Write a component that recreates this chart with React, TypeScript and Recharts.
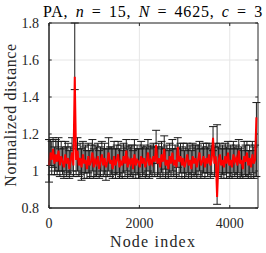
import { CartesianGrid, ErrorBar, Line, LineChart, ReferenceArea, ReferenceLine, XAxis, YAxis } from "recharts"

const nodeIndex = [
  0, 30, 60, 90, 120, 150, 180, 210, 240, 270,
  300, 330, 360, 390, 420, 450, 480, 510, 540, 570,
  600, 630, 660, 690, 720, 750, 780, 810, 840, 870,
  900, 930, 960, 990, 1020, 1050, 1080, 1110, 1140, 1170,
  1200, 1230, 1260, 1290, 1320, 1350, 1380, 1410, 1440, 1470,
  1500, 1530, 1560, 1590, 1620, 1650, 1680, 1710, 1740, 1770,
  1800, 1830, 1860, 1890, 1920, 1950, 1980, 2010, 2040, 2070,
  2100, 2130, 2160, 2190, 2220, 2250, 2280, 2310, 2340, 2370,
  2400, 2430, 2460, 2490, 2520, 2550, 2580, 2610, 2640, 2670,
  2700, 2730, 2760, 2790, 2820, 2850, 2880, 2910, 2940, 2970,
  3000, 3030, 3060, 3090, 3120, 3150, 3180, 3210, 3240, 3270,
  3300, 3330, 3360, 3390, 3420, 3450, 3480, 3510, 3540, 3570,
  3600, 3630, 3660, 3690, 3720, 3750, 3780, 3810, 3840, 3870,
  3900, 3930, 3960, 3990, 4020, 4050, 4080, 4110, 4140, 4170,
  4200, 4230, 4260, 4290, 4320, 4350, 4380, 4410, 4440, 4470,
  4500, 4530, 4560, 4590,
]

const distance = [
  1.03, 1.1, 1.06, 1.12, 1.04, 1.09, 1.05, 1.11, 1.03, 1.08,
  1.05, 1.02, 1.09, 1.04, 1.07, 1.01, 1.06, 1.1, 1.03, 1.51,
  1.06, 1.11, 1.03, 1.07, 1.02, 1.09, 1.04, 1.06, 1.01, 1.08,
  1.03, 1.05, 1.1, 1.02, 1.06, 1.04, 1.08, 1.01, 1.05, 1.09,
  1.03, 1.07, 1.02, 1.05, 1.1, 1.04, 1.06, 1.01, 1.08, 1.03,
  1.06, 1.09, 1.02, 1.05, 1.03, 1.08, 1.04, 1.11, 1.02, 1.06,
  1.04, 1.07, 1.01, 1.09, 1.03, 1.06, 1.05, 1.02, 1.08, 1.04,
  1.07, 1.02, 1.05, 1.1, 1.03, 1.06, 1.04, 1.08, 1.05, 1.14,
  1.04, 1.07, 1.02, 1.09, 1.05, 1.12, 1.03, 1.06, 1.01, 1.08,
  1.04, 1.1, 1.03, 1.06, 1.02, 1.13, 1.05, 1.08, 1.03, 1.07,
  1.02, 1.05, 1.09, 1.03, 1.06, 1.01, 1.08, 1.04, 1.07, 1.02,
  1.06, 1.1, 1.03, 1.05, 1.08, 1.02, 1.07, 1.04, 1.09, 1.03,
  1.06, 1.18, 1.04, 1.08, 0.86, 1.05, 1.09, 1.03, 1.06, 1.02,
  1.08, 1.04, 1.1, 1.03, 1.06, 1.02, 1.09, 1.05, 1.07, 1.03,
  1.11, 1.04, 1.06, 1.01, 1.08, 1.05, 1.1, 1.03, 1.07, 1.02,
  1.09, 1.04, 1.06, 1.29,
]

const errLow = [
  0.09, 0.07, 0.08, 0.1, 0.06, 0.09, 0.07, 0.11, 0.06, 0.08,
  0.07, 0.06, 0.09, 0.07, 0.08, 0.05, 0.08, 0.1, 0.06, 0.07,
  0.08, 0.11, 0.06, 0.09, 0.07, 0.1, 0.08, 0.07, 0.05, 0.09,
  0.07, 0.08, 0.1, 0.06, 0.09, 0.07, 0.1, 0.05, 0.08, 0.09,
  0.06, 0.09, 0.07, 0.08, 0.1, 0.07, 0.08, 0.05, 0.09, 0.07,
  0.08, 0.1, 0.06, 0.08, 0.07, 0.09, 0.07, 0.11, 0.06, 0.08,
  0.07, 0.09, 0.05, 0.1, 0.07, 0.08, 0.09, 0.06, 0.09, 0.07,
  0.09, 0.06, 0.08, 0.1, 0.07, 0.08, 0.07, 0.09, 0.08, 0.1,
  0.07, 0.09, 0.06, 0.1, 0.08, 0.11, 0.07, 0.08, 0.05, 0.09,
  0.07, 0.1, 0.06, 0.08, 0.06, 0.11, 0.08, 0.09, 0.07, 0.08,
  0.06, 0.08, 0.1, 0.07, 0.08, 0.05, 0.09, 0.07, 0.09, 0.06,
  0.08, 0.1, 0.07, 0.08, 0.09, 0.06, 0.08, 0.07, 0.1, 0.07,
  0.08, 0.07, 0.07, 0.09, 0.04, 0.08, 0.1, 0.07, 0.08, 0.06,
  0.09, 0.08, 0.11, 0.07, 0.09, 0.06, 0.1, 0.08, 0.09, 0.07,
  0.12, 0.08, 0.09, 0.05, 0.1, 0.08, 0.13, 0.07, 0.09, 0.06,
  0.1, 0.08, 0.09, 0.32,
]

const errHigh = [
  0.14, 0.07, 0.1, 0.06, 0.09, 0.08, 0.11, 0.07, 0.09, 0.08,
  0.08, 0.1, 0.07, 0.09, 0.08, 0.1, 0.07, 0.08, 0.09, 0.29,
  0.08, 0.07, 0.09, 0.08, 0.1, 0.07, 0.09, 0.08, 0.1, 0.07,
  0.08, 0.09, 0.07, 0.1, 0.08, 0.09, 0.07, 0.1, 0.08, 0.07,
  0.09, 0.08, 0.1, 0.07, 0.08, 0.09, 0.07, 0.11, 0.08, 0.09,
  0.08, 0.07, 0.1, 0.09, 0.08, 0.07, 0.09, 0.06, 0.1, 0.08,
  0.09, 0.07, 0.1, 0.08, 0.09, 0.08, 0.07, 0.1, 0.08, 0.09,
  0.07, 0.1, 0.08, 0.07, 0.09, 0.08, 0.09, 0.07, 0.08, 0.08,
  0.09, 0.08, 0.1, 0.07, 0.08, 0.07, 0.09, 0.08, 0.1, 0.07,
  0.08, 0.07, 0.09, 0.08, 0.1, 0.05, 0.08, 0.07, 0.09, 0.08,
  0.09, 0.08, 0.06, 0.09, 0.08, 0.1, 0.07, 0.09, 0.07, 0.1,
  0.08, 0.06, 0.09, 0.08, 0.07, 0.1, 0.08, 0.09, 0.06, 0.09,
  0.08, 0.06, 0.09, 0.07, 0.39, 0.08, 0.06, 0.09, 0.08, 0.1,
  0.07, 0.09, 0.06, 0.09, 0.08, 0.1, 0.07, 0.08, 0.07, 0.09,
  0.06, 0.08, 0.07, 0.1, 0.08, 0.09, 0.06, 0.08, 0.07, 0.09,
  0.07, 0.09, 0.08, 0.08,
]

const xTicks = [0, 2000, 4000]
const yTicks = [0.8, 1, 1.2, 1.4, 1.6, 1.8]

const X_MAX = 4625
const font = "'Liberation Serif', serif"
const axisColor = "#262626"

export default function App() {
  const data = nodeIndex.map((node, i) => ({
    node,
    dist: distance[i],
    err: [errLow[i], errHigh[i]],
  }))

  // small inward ticks on all four sides (matlab box style)
  const xTickLen = 60
  const yTickLen = 0.016

  return (
    <div style={{ position: "absolute", left: 0, top: 0 }}>
      <LineChart
        width={266}
        height={253}
        data={data}
        margin={{ top: 23, right: 8, bottom: 0, left: 0 }}
      >
        <CartesianGrid stroke="#e6e6e6" horizontalValues={yTicks} verticalValues={xTicks} />
        <XAxis
          dataKey="node"
          type="number"
          domain={[0, X_MAX]}
          ticks={xTicks}
          height={45}
          stroke={axisColor}
          tickLine={false}
          tick={{ fill: axisColor, fontSize: 14, fontFamily: font }}
          tickMargin={4}
        />
        <YAxis
          type="number"
          domain={[0.8, 1.8]}
          ticks={yTicks}
          allowDataOverflow
          width={49}
          stroke={axisColor}
          tickLine={false}
          tick={{ fill: axisColor, fontSize: 14, fontFamily: font }}
          tickMargin={4}
          tickFormatter={(v: number) => (v === 1 ? "1" : v.toFixed(1))}
        />
        <ReferenceArea x1={0} x2={X_MAX} y1={0.8} y2={1.8} fill="none" stroke={axisColor} strokeOpacity={1} />
        {yTicks.map((t) => (
          <ReferenceLine key={"yl" + t} segment={[{ x: 0, y: t }, { x: xTickLen, y: t }]} stroke={axisColor} />
        ))}
        {yTicks.map((t) => (
          <ReferenceLine key={"yr" + t} segment={[{ x: X_MAX - xTickLen, y: t }, { x: X_MAX, y: t }]} stroke={axisColor} />
        ))}
        {xTicks.map((t) => (
          <ReferenceLine key={"xb" + t} segment={[{ x: t, y: 0.8 }, { x: t, y: 0.8 + yTickLen }]} stroke={axisColor} />
        ))}
        {xTicks.map((t) => (
          <ReferenceLine key={"xt" + t} segment={[{ x: t, y: 1.8 - yTickLen }, { x: t, y: 1.8 }]} stroke={axisColor} />
        ))}
        <Line dataKey="dist" stroke="none" dot={false} isAnimationActive={false}>
          <ErrorBar dataKey="err" width={4} stroke="#1a1a1a" strokeWidth={1} direction="y" />
        </Line>
        <Line dataKey="dist" stroke="#ff0000" strokeWidth={2} dot={false} isAnimationActive={false} />
        <text
          x={153}
          y={17}
          textAnchor="middle"
          fontFamily={font}
          fontSize={16}
          letterSpacing={0.8}
          wordSpacing={2.5}
          fill="#000"
        >
          PA, <tspan fontStyle="italic">n</tspan> = 15, <tspan fontStyle="italic">N</tspan> = 4625,{" "}
          <tspan fontStyle="italic">c</tspan> = 3
        </text>
        <text
          x={153}
          y={247}
          textAnchor="middle"
          fontFamily={font}
          fontSize={16}
          letterSpacing={1.2}
          fill={axisColor}
        >
          Node index
        </text>
        <text
          transform="translate(16, 115) rotate(-90)"
          textAnchor="middle"
          fontFamily={font}
          fontSize={16}
          letterSpacing={0.6}
          fill={axisColor}
        >
          Normalized distance
        </text>
      </LineChart>
    </div>
  )
}
